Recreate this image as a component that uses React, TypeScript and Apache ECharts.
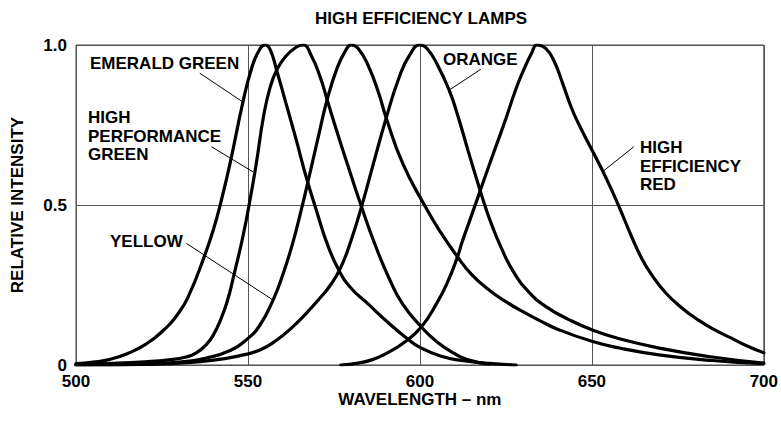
import React, { useEffect, useRef } from "react";
import * as echarts from "echarts";

// wavelength (nm), relative intensity
const emeraldGreen: [number, number][] = [
  [500, 0.004], [505, 0.009], [510, 0.018], [515, 0.036], [520, 0.063], [525, 0.104],
  [530, 0.165], [533, 0.222], [537, 0.33], [540, 0.425], [542.5, 0.525], [545, 0.64],
  [548.5, 0.82], [551, 0.925], [553, 0.978], [555, 1.0], [556.5, 0.985], [558.5, 0.915],
  [561, 0.82], [564, 0.705], [567, 0.585], [570, 0.48], [573, 0.38], [576.5, 0.295],
  [580, 0.24], [585, 0.19], [590, 0.14], [596, 0.085], [600, 0.055], [606, 0.028],
  [612, 0.014], [620, 0.005], [628, 0.0],
];
const highPerformanceGreen: [number, number][] = [
  [500, 0.002], [510, 0.005], [520, 0.01], [527, 0.016], [532, 0.025], [535, 0.038],
  [538, 0.065], [540, 0.095], [542, 0.14], [544, 0.2], [546, 0.285], [548.5, 0.4],
  [550.5, 0.51], [552.5, 0.635], [554.5, 0.775], [556.5, 0.87], [558.5, 0.925], [561, 0.965],
  [564, 0.993], [566, 1.0], [568.5, 0.965], [571, 0.9], [573, 0.83], [576, 0.725],
  [579, 0.625], [583, 0.495], [587, 0.375], [591, 0.272], [595, 0.19], [600.5, 0.118],
  [605, 0.072], [610, 0.036], [614, 0.016], [620, 0.003],
];
const yellow: [number, number][] = [
  [500, 0.0], [510, 0.001], [520, 0.003], [530, 0.009], [538, 0.022], [545, 0.046],
  [549.7, 0.08], [553.5, 0.125], [557.3, 0.203], [560, 0.278], [563, 0.38], [565.5, 0.485],
  [567.5, 0.575], [570.5, 0.715], [573, 0.828], [576, 0.93], [578.5, 0.985], [580, 1.0],
  [582, 0.99], [585, 0.935], [588, 0.85], [590.2, 0.772], [595, 0.63], [601.3, 0.5],
  [606, 0.415], [610.8, 0.34], [615, 0.283], [620, 0.235], [625, 0.198], [629, 0.172],
  [635, 0.138], [640, 0.112], [650, 0.074], [658, 0.053], [670, 0.031], [685, 0.014],
  [700, 0.004],
];
const orange: [number, number][] = [
  [500, 0.0], [520, 0.002], [530, 0.006], [540, 0.015], [548, 0.03], [553.5, 0.047],
  [558, 0.075], [563, 0.119], [567, 0.162], [571, 0.21], [574, 0.25], [577, 0.305],
  [580, 0.39], [583, 0.494], [586.5, 0.63], [590.2, 0.772], [594, 0.9], [597, 0.968],
  [600, 1.0], [602, 0.99], [605, 0.94], [608.5, 0.859], [611, 0.78], [614, 0.67],
  [617.2, 0.556], [619, 0.495], [621, 0.435], [623.5, 0.37], [627, 0.295], [631.7, 0.228],
  [637, 0.18], [643.3, 0.142], [650, 0.11], [658, 0.082], [670, 0.052], [685, 0.025],
  [700, 0.006],
];
const highEfficiencyRed: [number, number][] = [
  [577, 0.0], [582, 0.006], [586, 0.016], [590, 0.035], [595, 0.067], [600.4, 0.119],
  [605, 0.195], [608, 0.258], [610.8, 0.334], [612.3, 0.385], [614.5, 0.452], [616.6, 0.516],
  [619, 0.59], [622, 0.68], [625, 0.77], [628, 0.865], [630.5, 0.93], [632.5, 0.975],
  [634, 1.0], [636.5, 0.99], [639, 0.95], [641.5, 0.88], [644.2, 0.8], [647, 0.735],
  [650.6, 0.66], [654.1, 0.585], [657.3, 0.51], [661.6, 0.4], [664.5, 0.333],
  [667.5, 0.28], [671.5, 0.225], [676, 0.18], [681, 0.14], [686, 0.108], [690.6, 0.084],
  [695, 0.06], [700, 0.038],
];

const curves = [
  { name: "EMERALD GREEN", data: emeraldGreen },
  { name: "HIGH PERFORMANCE GREEN", data: highPerformanceGreen },
  { name: "YELLOW", data: yellow },
  { name: "ORANGE", data: orange },
  { name: "HIGH EFFICIENCY RED", data: highEfficiencyRed },
];

// leader lines from label to curve, in data coordinates
const leaderEmerald: [number, number][] = [[536.0, 0.912], [548.5, 0.822]];
const leaderHighPerf: [number, number][] = [[539.4, 0.682], [551.4, 0.604]];
const leaderYellow: [number, number][] = [[532.1, 0.38], [557.3, 0.203]];
const leaderOrange: [number, number][] = [[617.7, 0.924], [608.5, 0.859]];
const leaderRed: [number, number][] = [[662.2, 0.682], [653.2, 0.605]];
const leaders = [leaderEmerald, leaderHighPerf, leaderYellow, leaderOrange, leaderRed];

const xTicks = [500, 550, 600, 650, 700];
const xTickLabels = ["500", "550", "600", "650", "700"];
const yTicks = [0, 0.5, 1.0];
const yTickLabels = ["0", "0.5", "1.0"];

const titleText = "HIGH EFFICIENCY LAMPS";
const xName = "WAVELENGTH – nm";
const yName = "RELATIVE INTENSITY";

const FONT_FAMILY = '"Liberation Sans", Arial, Helvetica, sans-serif';
const FS = 17;
const font = `bold ${FS}px ${FONT_FAMILY}`;

export default function App() {
  const ref = useRef<HTMLDivElement>(null);
  useEffect(() => {
    if (!ref.current) return;
    const chart = echarts.init(ref.current, undefined, { renderer: "svg" });
    const labelOf = (ticks: number[], labels: string[]) => (v: number) => {
      const i = ticks.findIndex((t) => Math.abs(t - v) < 1e-9);
      return i >= 0 ? labels[i] : "";
    };
    chart.setOption({
      animation: false,
      backgroundColor: "#fff",
      grid: {
        left: 76,
        right: 16,
        top: 45,
        bottom: 56,
        show: true,
        borderColor: "#444",
        borderWidth: 1,
      },
      xAxis: {
        type: "value",
        min: 500,
        max: 700,
        interval: 50,
        name: xName,
        nameLocation: "middle",
        nameGap: 26,
        nameMoveOverlap: false,
        nameTextStyle: { fontSize: FS, fontWeight: "bold", color: "#000", fontFamily: FONT_FAMILY },
        axisLine: { show: false },
        axisTick: { show: false },
        splitLine: { show: true, lineStyle: { color: "#555", width: 1 } },
        axisLabel: {
          formatter: labelOf(xTicks, xTickLabels),
          fontSize: FS,
          fontWeight: "bold",
          color: "#000",
          fontFamily: FONT_FAMILY,
          margin: 8,
        },
      },
      yAxis: {
        type: "value",
        min: 0,
        max: 1,
        interval: 0.5,
        name: yName,
        nameLocation: "middle",
        nameGap: 50,
        nameMoveOverlap: false,
        nameTextStyle: { fontSize: FS, fontWeight: "bold", color: "#000", fontFamily: FONT_FAMILY },
        axisLine: { show: false },
        axisTick: { show: false },
        splitLine: { show: true, lineStyle: { color: "#555", width: 1 } },
        axisLabel: {
          formatter: labelOf(yTicks, yTickLabels),
          fontSize: FS,
          fontWeight: "bold",
          color: "#000",
          fontFamily: FONT_FAMILY,
          margin: 9,
        },
      },
      graphic: [
        { type: "text", x: 421, y: 18, style: { text: titleText, font, fill: "#000", align: "center", verticalAlign: "middle" } },
        { type: "text", x: 90, y: 63, style: { text: "EMERALD GREEN", font, fill: "#000", align: "left", verticalAlign: "middle" } },
        { type: "text", x: 88, y: 136, style: { text: "HIGH\nPERFORMANCE\nGREEN", font, lineHeight: 18.5, fill: "#000", align: "left", verticalAlign: "middle" } },
        { type: "text", x: 110, y: 241, style: { text: "YELLOW", font, fill: "#000", align: "left", verticalAlign: "middle" } },
        { type: "text", x: 443, y: 59, style: { text: "ORANGE", font, fill: "#000", align: "left", verticalAlign: "middle" } },
        { type: "text", x: 640, y: 166, style: { text: "HIGH\nEFFICIENCY\nRED", font, lineHeight: 18.5, fill: "#000", align: "left", verticalAlign: "middle" } },
      ],
      series: [
        ...curves.map((c) => ({
          name: c.name,
          type: "line",
          data: c.data,
          showSymbol: false,
          symbol: "none",
          smooth: 0.5,
          lineStyle: { color: "#000", width: 3.2, cap: "round" },
          silent: true,
          z: 3,
        })),
        ...leaders.map((l) => ({
          type: "line",
          data: l,
          symbol: "none",
          lineStyle: { color: "#000", width: 1 },
          silent: true,
          z: 2,
        })),
      ],
    });
    return () => chart.dispose();
  }, []);
  return (
    <div
      ref={ref}
      style={{ position: "fixed", left: 0, top: 0, width: 781, height: 421 }}
    />
  );
}
